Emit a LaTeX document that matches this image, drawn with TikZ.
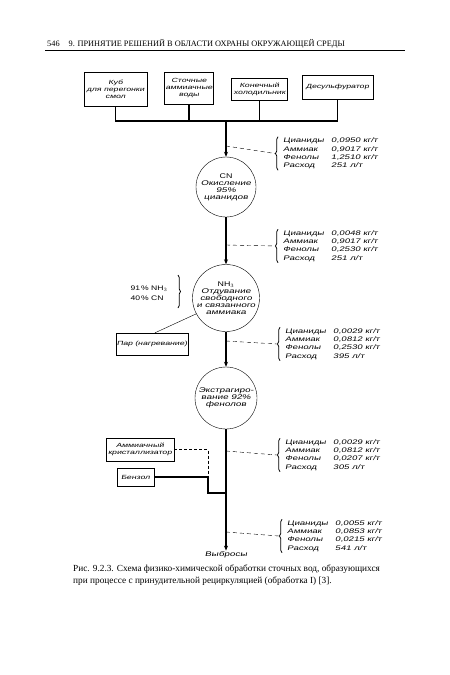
\documentclass[tikz,border=0pt]{standalone}
\usepackage{fontspec}
\setmainfont{Liberation Serif}
\setsansfont{Liberation Sans}
\newfontfamily\handfont[FakeSlant=0.2,FakeStretch=1.45]{Liberation Sans}
\newfontfamily\plainfont[FakeStretch=1.3]{Liberation Sans}
\usetikzlibrary{positioning,calc,arrows.meta,decorations.pathreplacing}

\newcommand{\wastetab}[4]{%
  \begin{tabular}{@{}p{48pt}@{}l@{}}
    Цианиды & #1 кг/т\\
    Аммиак  & #2 кг/т\\
    Фенолы  & #3 кг/т\\
    Расход  & #4 л/т
  \end{tabular}}

\tikzset{
  unit/.style={draw, thin, align=center, inner sep=1pt, font=\handfont\fontsize{6}{7}\selectfont},
  stage/.style={draw, thin, circle, minimum size=60pt, inner sep=0pt, align=center, font=\handfont\fontsize{6.8}{6.9}\selectfont},
  pipe/.style={line width=1.5pt},
  flow/.style={line width=1.5pt, -{Stealth[length=5pt,width=4pt]}},
  probe/.style={thin, dash pattern=on 4pt off 3pt},
  brc/.style={thick, decorate, decoration={brace, amplitude=2.5pt}},
  data/.style={anchor=west, inner sep=0pt, font=\handfont\fontsize{6.6}{8.3}\selectfont},
}

\begin{document}
\begin{tikzpicture}[x=1pt, y=-1pt]
    \useasboundingbox (0,0) rectangle (450,675);
    \fill [white] (0,0) rectangle (450,675);

    % Running head
    \node [anchor=base west, inner sep=0pt, font=\fontsize{8.3}{9}\selectfont] (head) at (47,46)
        {546\hspace{9pt}9. ПРИНЯТИЕ РЕШЕНИЙ В ОБЛАСТИ ОХРАНЫ ОКРУЖАЮЩЕЙ СРЕДЫ};
    \draw [thin] (45,50) -- (405,50);

    % Sources
    \node [unit, minimum width=63pt, minimum height=34pt] (kub) at (115.5,89) {Куб\\для перегонки\\смол};
    \node [unit, minimum width=46pt, minimum height=32pt] (water) at (189,88) {Сточные\\аммиачные\\воды};
    \node [unit, minimum width=56pt, minimum height=22pt] (cooler) at (259.5,89) {Конечный\\холодильник};
    \node [unit, minimum width=71pt, minimum height=24pt] (desulf) at (337.5,87) {Десульфуратор};

    \coordinate (jn) at (226,121);
    \draw [pipe] (kub.south) -- (kub.south |- jn) -- (desulf.south |- jn) -- (desulf.south);
    \draw [pipe] (water.south) -- (water.south |- jn);
    \draw [pipe] (cooler.south) -- (cooler.south |- jn);

    % Treatment stages
    \node [stage] (cyan) at (226,187) {{\plainfont CN}\\Окисление\\95\%\\цианидов};
    \node [stage] (ammo) at (226,298) {{\plainfont NH$_3$}\\Отдувание\\свободного\\и связанного\\аммиака};
    \node [stage, minimum size=62pt] (phen) at (226,398) {Экстрагиро-\\вание 92\%\\фенолов};
    \node [font=\handfont\fontsize{6.8}{7}\selectfont, inner sep=1pt] (out) at (226,555) {Выбросы};

    \draw [flow] (jn) -- (cyan);
    \draw [flow] (cyan) -- (ammo);
    \draw [flow] (ammo) -- (phen);
    \draw [flow] (phen) -- (out);

    % Removal rates
    \node [align=left, inner sep=0pt, font=\plainfont\fontsize{6.6}{10}\selectfont] (rate) at (149,293)
        {91\,\% NH$_3$\\40\,\% CN};
    \draw [brc] (178,275) -- (178,308);

    % Steam
    \node [unit, minimum width=70pt, minimum height=22pt] (steam) at (152,344) {Пар (нагревание)};
    \draw [thin] (ammo.208) -- (steam.75);

    % Additions before discharge
    \node [unit, minimum width=68pt, minimum height=23pt] (cryst) at (140,449.5) {Аммиачный\\кристаллизатор};
    \node [unit, minimum width=37pt, minimum height=18pt] (benz) at (135.5,477) {Бензол};
    \coordinate (bend) at (208,477);
    \coordinate (join) at (226,493);
    \draw [thin, densely dashed] (cryst.east) -| (bend);
    \draw [pipe] (benz.east) -- (bend) |- (join);

    % Stream composition
    \node [data] (t1) at (283,153.5) {\wastetab{0,0950}{0,9017}{1,2510}{251}};
    \node [data] (t2) at (283,246) {\wastetab{0,0048}{0,9017}{0,2530}{251}};
    \node [data] (t3) at (285,344) {\wastetab{0,0029}{0,0812}{0,2530}{395}};
    \node [data] (t4) at (285,455) {\wastetab{0,0029}{0,0812}{0,0207}{305}};
    \node [data] (t5) at (287,536) {\wastetab{0,0055}{0,0853}{0,0215}{541}};

    \draw [brc] ($(t1.south west)+(-5,0)$) -- ($(t1.north west)+(-5,0)$);
    \draw [brc] ($(t2.south west)+(-5,0)$) -- ($(t2.north west)+(-5,0)$);
    \draw [brc] ($(t3.south west)+(-5,0)$) -- ($(t3.north west)+(-5,0)$);
    \draw [brc] ($(t4.south west)+(-5,0)$) -- ($(t4.north west)+(-5,0)$);
    \draw [brc] ($(t5.south west)+(-5,0)$) -- ($(t5.north west)+(-5,0)$);

    \coordinate (m1) at (226,146);
    \coordinate (m2) at (226,245);
    \coordinate (m3) at (226,341);
    \coordinate (m4) at (226,451);
    \coordinate (m5) at (226,532);
    \draw [probe] (m1) -- ($(t1.west)+(-8,0)$);
    \draw [probe] (m2) -- ($(t2.west)+(-8,0)$);
    \draw [probe] (m3) -- ($(t3.west)+(-8,0)$);
    \draw [probe] (m4) -- ($(t4.west)+(-8,0)$);
    \draw [probe] (m5) -- ($(t5.west)+(-8,0)$);

    % Caption
    \node [anchor=north west, align=left, inner sep=0pt, font=\fontsize{9.3}{11.5}\selectfont] (cap) at (73,565)
        {Рис. 9.2.3. Схема физико-химической обработки сточных вод, образующихся\\
         при процессе с принудительной рециркуляцией (обработка I) [3].};
\end{tikzpicture}
\end{document}
